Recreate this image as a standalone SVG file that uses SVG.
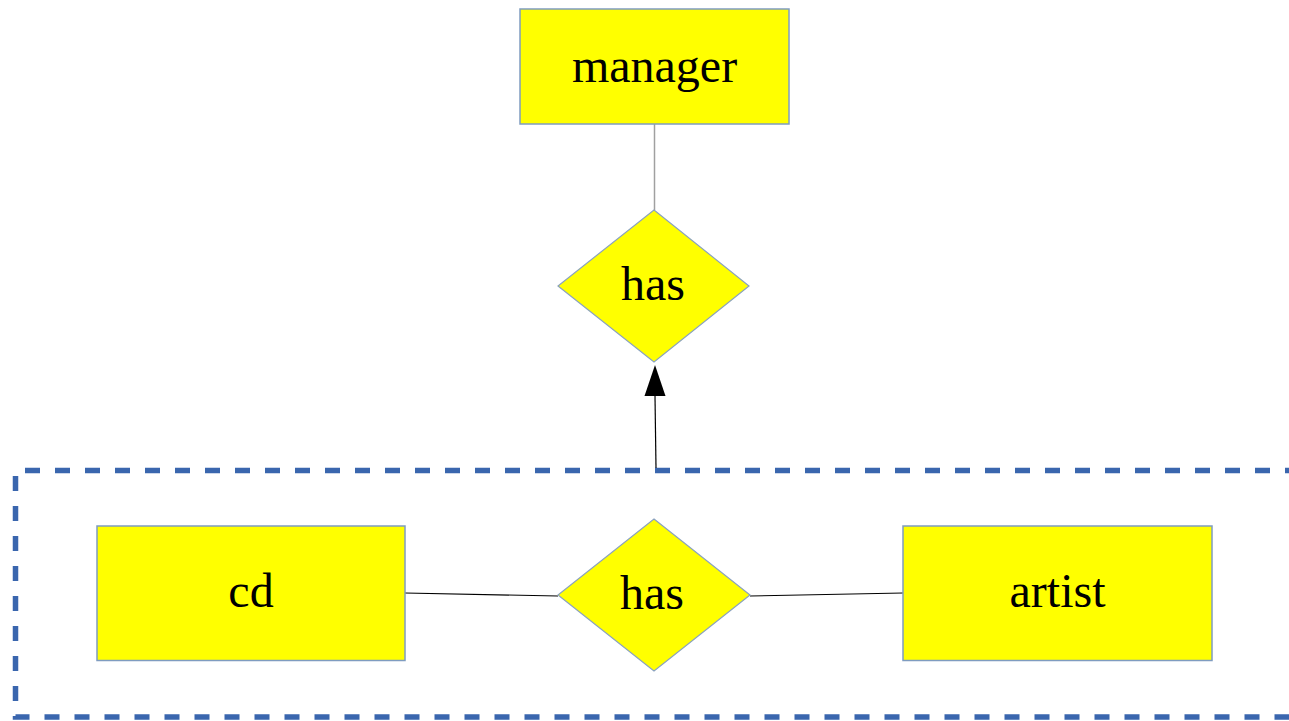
<svg xmlns="http://www.w3.org/2000/svg" width="1289" height="721" viewBox="0 0 1289 721">
  <style>
    .entity { fill: #ffff00; stroke: #7f9cc0; stroke-width: 1.5; }
    .rel { fill: #ffff00; stroke: #8aa2bf; stroke-width: 1.2; }
    .label { font-family: "Liberation Serif", "Times New Roman", serif; font-size: 48px; fill: #000; text-anchor: middle; }
    .link { stroke: #000; stroke-width: 1.2; fill: none; }
    .link-grey { stroke: #a0a0a0; stroke-width: 1.5; fill: none; }
    .aggregate { fill: none; stroke: #3a66ae; stroke-width: 5.5; stroke-dasharray: 15 15; }
  </style>
  <rect width="1289" height="721" fill="#fff"/>

  <!-- aggregation boundary around cd-has-artist -->
  <g id="aggregation">
    <path class="aggregate" d="M1300 470.5 L15.5 470.5 L15.5 717 L1300 717"/>
  </g>

  <g id="connectors">
    <line class="link-grey" x1="654.5" y1="124" x2="654.5" y2="210"/>
    <line class="link" x1="656" y1="468" x2="655" y2="396"/>
    <path d="M655 365 L665.5 396 L644.5 396 Z" fill="#000"/>
    <line class="link" x1="405" y1="593" x2="558" y2="596"/>
    <line class="link" x1="750" y1="596" x2="903" y2="593"/>
  </g>

  <g id="manager">
    <rect class="entity" x="520" y="9" width="269" height="115"/>
    <text class="label" x="654.5" y="82">manager</text>
  </g>

  <g id="has-top">
    <polygon class="rel" points="654,210 749,286 654,362 558,286"/>
    <text class="label" x="653" y="300">has</text>
  </g>

  <g id="cd">
    <rect class="entity" x="97" y="526" width="308" height="134.5"/>
    <text class="label" x="251" y="607">cd</text>
  </g>

  <g id="has-bottom">
    <polygon class="rel" points="654,519 750,595 654,671 558,595"/>
    <text class="label" x="652" y="609">has</text>
  </g>

  <g id="artist">
    <rect class="entity" x="903" y="526" width="309" height="134.5"/>
    <text class="label" x="1057.5" y="607">artist</text>
  </g>
</svg>
